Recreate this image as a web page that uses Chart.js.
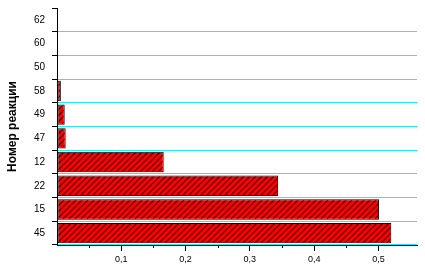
<!DOCTYPE html>
<html>
<head>
<meta charset="utf-8">
<script src="https://cdn.jsdelivr.net/npm/chart.js@4"></script>
<style>
  html, body { margin: 0; padding: 0; background: #fff; }
  #wrap { width: 425px; height: 276px; }
</style>
</head>
<body>
<div id="wrap"><canvas id="chart" width="425" height="276"></canvas></div>
<script>
// reaction numbers, top to bottom
const reactions = ['62', '60', '50', '58', '49', '47', '12', '22', '15', '45'];
const values = [0, 0, 0, 0.006, 0.012, 0.0135, 0.166, 0.344, 0.501, 0.52];
const xLabelled = [0.1, 0.2, 0.3, 0.4, 0.5];

// red fill with black diagonal hatching
function makeHatch() {
    const c = document.createElement('canvas');
    c.width = 6; c.height = 6;
    const g = c.getContext('2d');
    g.fillStyle = '#ff0000';
    g.fillRect(0, 0, 6, 6);
    g.strokeStyle = '#000';
    g.lineWidth = 1.15;
    g.beginPath();
    g.moveTo(-1, 7); g.lineTo(7, -1);
    g.moveTo(-1, 1); g.lineTo(1, -1);
    g.moveTo(5, 7); g.lineTo(7, 5);
    g.stroke();
    return g.createPattern(c, 'repeat');
}

const isMajor = v => xLabelled.some(m => Math.abs(m - v) < 1e-6);

// short minor ticks on the x axis
const minorTicks = {
    id: 'minorTicks',
    afterDraw(chart) {
        const xs = chart.scales.x;
        const ctx = chart.ctx;
        ctx.save();
        ctx.strokeStyle = '#000';
        ctx.lineWidth = 1;
        xs.ticks.forEach(t => {
            if (isMajor(t.value) || t.value === 0) return;
            const px = Math.round(xs.getPixelForValue(t.value)) + 0.5;
            ctx.beginPath();
            ctx.moveTo(px, xs.top);
            ctx.lineTo(px, xs.top + 3);
            ctx.stroke();
        });
        ctx.restore();
    }
};

const ctx = document.getElementById('chart').getContext('2d');
new Chart(ctx, {
    type: 'bar',
    data: {
        labels: reactions,
        datasets: [{
            data: values,
            backgroundColor: makeHatch(),
            borderColor: '#000',
            borderWidth: 1,
            borderSkipped: false,
            categoryPercentage: 1,
            barPercentage: 0.86
        }]
    },
    options: {
        indexAxis: 'y',
        responsive: false,
        animation: false,
        layout: { padding: { top: 8, right: 8, left: 0, bottom: 0 } },
        plugins: { legend: { display: false }, tooltip: { enabled: false } },
        scales: {
            x: {
                min: 0,
                max: 0.56,
                afterBuildTicks: s => {
                    s.ticks = s.ticks.filter(t => Math.abs(t.value * 20 - Math.round(t.value * 20)) < 1e-6);
                },
                afterFit: s => { s.height = 31; s.paddingLeft = 0; s.paddingRight = 0; },
                ticks: {
                    stepSize: 0.05,
                    autoSkip: false,
                    maxRotation: 0,
                    padding: 3,
                    color: '#000',
                    font: { family: 'Arial, "Liberation Sans", sans-serif', size: 9 },
                    callback: v => isMajor(v) ? v.toFixed(1).replace('.', ',') : ''
                },
                grid: {
                    drawOnChartArea: false,
                    tickLength: 6,
                    tickColor: c => (c.tick && isMajor(c.tick.value)) ? '#000' : 'rgba(0,0,0,0)'
                },
                border: { color: '#000', width: 1 }
            },
            y: {
                afterFit: s => { s.width = 57; s.paddingTop = 0; s.paddingBottom = 0; },
                ticks: {
                    padding: 7,
                    color: '#000',
                    font: { family: 'Arial, "Liberation Sans", sans-serif', size: 10 }
                },
                grid: {
                    offset: true,
                    tickLength: 5,
                    lineWidth: 1,
                    color: c => c.index === 0 ? 'rgba(0,0,0,0)' : '#2ee6f0',
                    tickColor: '#000'
                },
                border: { color: '#000', width: 1 },
                title: {
                    display: true,
                    text: 'Номер реакции',
                    color: '#000',
                    padding: { top: 5, bottom: 0 },
                    font: { family: 'Arial, "Liberation Sans", sans-serif', size: 12, weight: 'bold' }
                }
            }
        }
    },
    plugins: [minorTicks]
});
</script>
</body>
</html>
